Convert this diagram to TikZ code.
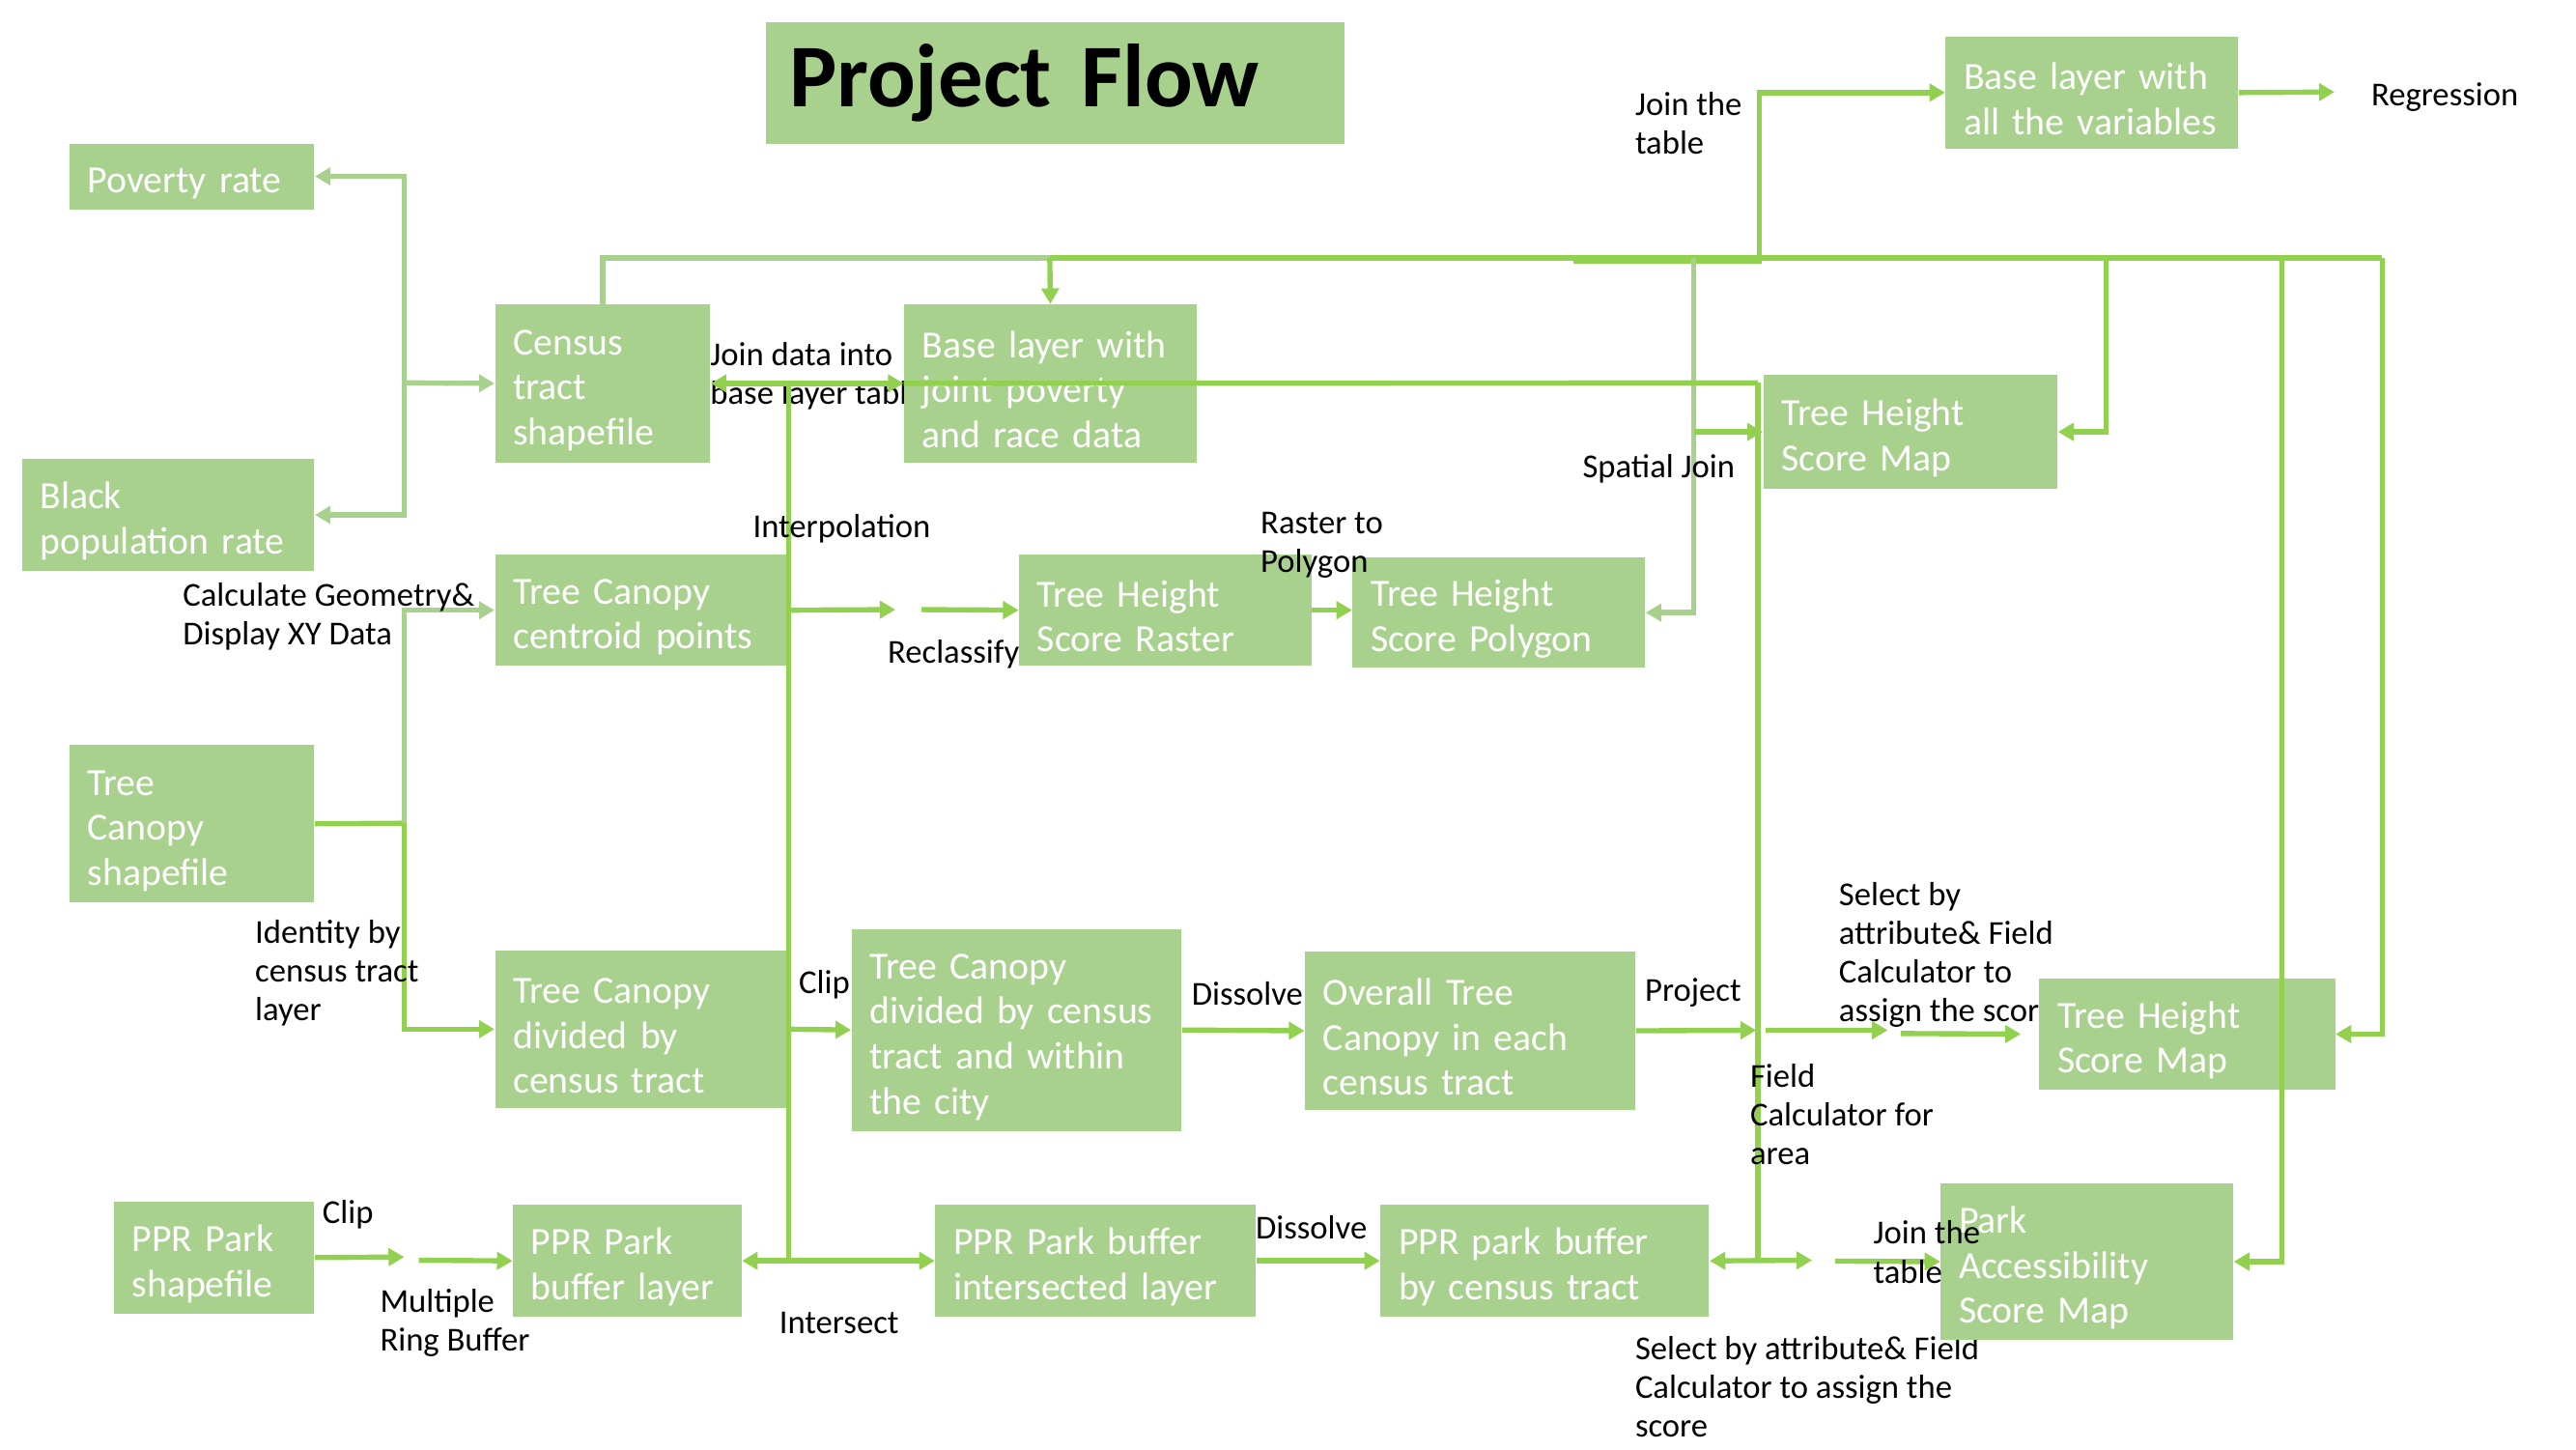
\documentclass[tikz,border=0pt]{standalone}
\usepackage{fontspec}
\setmainfont{Carlito}
\usepackage{xcolor}
\usetikzlibrary{arrows.meta}
\definecolor{boxgreen}{HTML}{A9D18E}
\definecolor{linegreen}{HTML}{92D050}
\newcommand{\boxfont}{\fontsize{13.3}{15.6}\selectfont}
\newcommand{\lblfont}{\fontsize{11.6}{13.4}\selectfont}
\newcommand{\titlefont}{\fontsize{31}{35}\selectfont\bfseries}

\begin{document}
\begin{tikzpicture}[x=0.02cm, y=-0.02cm,
    >={Triangle[length=0.19cm,width=0.21cm]},
    box/.style={fill=boxgreen, text=white, font=\boxfont, align=left,
      anchor=north west, inner sep=0pt, execute at begin node={\rule{0pt}{13.5pt}}},
    lbl/.style={font=\lblfont, align=left, anchor=west, inner sep=0pt, yshift=-0.04cm},
    flow/.style={draw=linegreen, line width=1.8pt},
    flowlt/.style={draw=boxgreen, line width=1.8pt}]
  \useasboundingbox (0,0) rectangle (1568,882);
  % labels that sit under the boxes
  \node[lbl] (joindata) at (432,227) {Join data into\\base layer table};
  \node[lbl] (selecttop) at (1119,579) {Select by\\attribute\& Field\\Calculator to\\assign the score};
  \node[lbl] (selectbot) at (995,842) {Select by attribute\& Field\\Calculator to assign the\\score};
  % title
  \node[box, text=black, font=\titlefont, minimum width=7.04cm, minimum height=1.48cm, text width=6.48cm] (title) at (466,13) {Project Flow};
  % boxes
  \node[box, minimum width=2.98cm, minimum height=0.80cm, text width=2.54cm] (pov) at (42,87) {Poverty rate};
  \node[box, minimum width=3.56cm, minimum height=1.36cm, text width=3.12cm] (blackpop) at (13,279) {Black\\population rate};
  \node[box, minimum width=2.62cm, minimum height=1.92cm, text width=2.18cm] (census) at (301,185) {Census\\tract\\shapefile};
  \node[box, minimum width=3.56cm, minimum height=1.92cm, text width=3.12cm] (basejoin) at (550,185) {Base layer with\\joint poverty\\and race data};
  \node[box, minimum width=3.56cm, minimum height=1.36cm, text width=3.12cm] (baseall) at (1184,22) {Base layer with\\all the variables};
  \node[box, minimum width=3.58cm, minimum height=1.38cm, text width=3.14cm] (mapnorth) at (1073,228) {Tree Height\\Score Map};
  \node[box, minimum width=3.56cm, minimum height=1.36cm, text width=3.12cm] (centroid) at (301,337) {Tree Canopy\\centroid points};
  \node[box, minimum width=3.56cm, minimum height=1.36cm, text width=3.12cm] (raster) at (620,337) {Tree Height\\Score Raster};
  \node[box, minimum width=3.56cm, minimum height=1.34cm, text width=3.12cm] (polygon) at (823,339) {Tree Height\\Score Polygon};
  \node[box, minimum width=2.98cm, minimum height=1.92cm, text width=2.54cm] (canopy) at (42,453) {Tree\\Canopy\\shapefile};
  \node[box, minimum width=3.56cm, minimum height=1.92cm, text width=3.12cm] (canopytract) at (301,578) {Tree Canopy\\divided by\\census tract};
  \node[box, minimum width=4.02cm, minimum height=2.46cm, text width=3.58cm] (canopycity) at (518,565) {Tree Canopy\\divided by census\\tract and within\\the city};
  \node[box, minimum width=4.02cm, minimum height=1.92cm, text width=3.58cm] (overall) at (794,579) {Overall Tree\\Canopy in each\\census tract};
  \node[box, minimum width=3.60cm, minimum height=1.36cm, text width=3.16cm] (mapeast) at (1241,595) {Tree Height\\Score Map};
  \node[box, minimum width=2.44cm, minimum height=1.36cm, text width=2.00cm] (parkshp) at (69,731) {PPR Park\\shapefile};
  \node[box, minimum width=2.78cm, minimum height=1.36cm, text width=2.34cm] (parkbuf) at (312,733) {PPR Park\\buffer layer};
  \node[box, minimum width=3.90cm, minimum height=1.36cm, text width=3.46cm] (parkint) at (569,733) {PPR Park buffer\\intersected layer};
  \node[box, minimum width=4.00cm, minimum height=1.36cm, text width=3.56cm] (parktract) at (840,733) {PPR park buffer\\by census tract};
  \node[box, minimum width=3.56cm, minimum height=1.90cm, text width=3.12cm] (access) at (1181,720) {Park\\Accessibility\\Score Map};
  % census tract to the rates
  \coordinate (tapL) at (246,233);
  \draw[flowlt,->] (tapL) |- (pov.east);
  \draw[flowlt,->] (tapL) |- (blackpop.east);
  \draw[flowlt,->] (tapL) -- (census.west);
  % top line
  \coordinate (topL) at (639,157);
  \coordinate (topR) at (1450,157);
  \coordinate (dropN) at (1282,157);
  \coordinate (dropS) at (1389,157);
  \draw[flowlt] (census.north) |- (topL);
  \draw[flow,->] (topL) -- (basejoin.north);
  \draw[flow] (topL) -- (topR);
  \draw[flow,->] (topR) |- (mapeast.east);
  \draw[flow,->] (dropN) |- (mapnorth.east);
  \draw[flow,->] (dropS) |- (access.east);
  % join the table
  \coordinate (jtab) at (958,159);
  \coordinate (jtabx) at (1071,159);
  \coordinate (regtip) at (1421,56);
  \draw[flow,->] (jtab) -- (jtabx) |- (baseall.west);
  \draw[flow,->] (baseall.east) -- (regtip);
  % spatial join
  \coordinate (sjoin) at (1031,157);
  \draw[flowlt,->] (sjoin) |- (polygon.east);
  \draw[flow,->] (sjoin |- mapnorth.west) -- (mapnorth.west);
  % join data into base layer, two trunks
  \coordinate (trunkW) at (480,233);
  \coordinate (trunkE) at (1070,233);
  \draw[flow,<->] (census.east) -- (basejoin.west);
  \draw[flow] (basejoin.west) -- (trunkE);
  \draw[flow] (trunkE) -- (trunkE |- parktract.east);
  \draw[flow] (trunkW) -- (trunkW |- parkbuf.east);
  % tree canopy
  \coordinate (tapC) at (246,501);
  \draw[flow] (canopy.east) -- (tapC);
  \draw[flowlt,->] (tapC) |- (centroid.west);
  \draw[flow,->] (tapC) |- (canopytract.west);
  \coordinate (interp1) at (545,371);
  \coordinate (interp2) at (561,371);
  \draw[flow,->] (centroid.east) -- (interp1);
  \draw[flow,->] (interp2) -- (raster.west);
  \draw[flow,->] (raster.east) -- (raster.east -| polygon.west);
  \draw[flow,->] (canopytract.east) -- (canopycity.west);
  \draw[flow,->] (canopycity.east) -- (overall.west);
  \coordinate (proj1) at (1069,627);
  \coordinate (proj2) at (1075,627);
  \coordinate (proj3) at (1149,627);
  \coordinate (proj4) at (1157,629);
  \draw[flow,->] (overall.east) -- (proj1);
  \draw[flow,->] (proj2) -- (proj3);
  \draw[flow,->] (proj4) -- ([xshift=-0.22cm]mapeast.west);
  % parks
  \coordinate (ring1) at (246,765);
  \coordinate (ring2) at (255,767);
  \draw[flow,->] (parkshp.east) -- (ring1);
  \draw[flow,->] (ring2) -- (parkbuf.west);
  \draw[flow,<->] (parkbuf.east) -- (parkint.west);
  \draw[flow,->] (parkint.east) -- (parktract.west);
  \coordinate (jt1) at (1103,767);
  \coordinate (jt2) at (1117,767.5);
  \draw[flow,<->] (parktract.east) -- (jt1);
  \draw[flow,->] (jt2) -- (access.west);
  % step labels
  \node[lbl] (regr) at (1443,57) {Regression};
  \node[lbl] (interp) at (458,320) {Interpolation};
  \node[lbl] (reclass) at (540,396) {Reclassify};
  \node[lbl] (r2p) at (767,330) {Raster to\\Polygon};
  \node[lbl] (spjoin) at (963,283) {Spatial Join};
  \node[lbl] (jointop) at (995,73) {Join the\\table};
  \node[lbl] (calcgeo) at (111,373) {Calculate Geometry\&\\Display XY Data};
  \node[lbl] (identity) at (155,590) {Identity by\\census tract\\layer};
  \node[lbl] (clipmid) at (486,597) {Clip};
  \node[lbl] (dissmid) at (725,603) {Dissolve};
  \node[lbl] (project) at (1001,602) {Project};
  \node[lbl] (fieldcalc) at (1065,676) {Field\\Calculator for\\area};
  \node[lbl] (clipbot) at (196,737) {Clip};
  \node[lbl] (ringbuf) at (231,803) {Multiple\\Ring Buffer};
  \node[lbl] (intersect) at (474,803) {Intersect};
  \node[lbl] (dissbot) at (764,745) {Dissolve};
  \node[lbl] (jointable) at (1140,760) {Join the\\table};
\end{tikzpicture}
\end{document}
